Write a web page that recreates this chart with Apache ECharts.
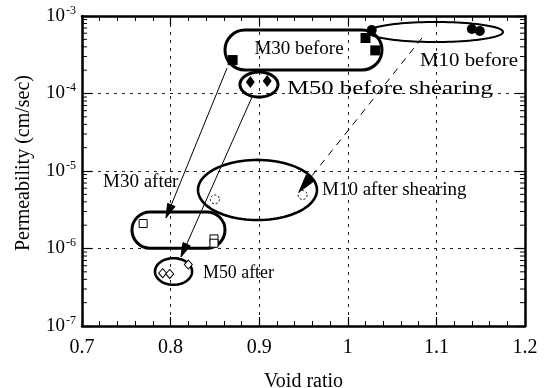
<!DOCTYPE html>
<html><head><meta charset="utf-8">
<script src="https://cdn.jsdelivr.net/npm/echarts@6/dist/echarts.min.js"></script>
<style>html,body{margin:0;padding:0;background:#fff}#c{width:545px;height:388px}</style>
</head><body><div id="c"></div>
<script>
// ---- data ----
const xTicks = [0.7, 0.8, 0.9, 1.0, 1.1, 1.2];
const yTickExponents = [-7, -6, -5, -4, -3];
const yMinorMantissas = [2, 3, 4, 5, 6, 7, 8, 9];
const yMinorDecades = [-7, -6, -5, -4];

const m10Before = [[1.140, 6.8e-4], [1.149, 6.4e-4], [1.027, 6.6e-4]];
const m30Before = [[0.870, 2.7e-4], [1.020, 5.2e-4], [1.031, 3.6e-4]];
const m50Before = [[0.890, 1.41e-4], [0.909, 1.45e-4]];
const m10After = [[0.949, 4.9e-6], [0.850, 4.3e-6]];
const m30After = [[0.769, 2.1e-6], [0.849, 1.33e-6], [0.849, 1.17e-6]];
const m50After = [[0.791, 4.8e-7], [0.799, 4.7e-7], [0.820, 6.2e-7]];

// group outlines in data units: [xMin, xMax, yTop, yBottom]
const outlineNames = ['M10 before', 'M30 before', 'M50 before', 'M10 after', 'M30 after', 'M50 after'];
const outlineShapes = ['ellipse', 'pill', 'ellipse', 'ellipse', 'pill', 'ellipse'];
const outlineBoxes = [
  [1.0228, 1.1752, 8.37e-4, 4.62e-4],
  [0.8614, 1.0386, 6.6e-4, 2.01e-4],
  [0.8783, 0.9212, 1.89e-4, 9.0e-5],
  [0.8309, 0.9652, 1.39e-5, 2.33e-6],
  [0.7564, 0.8614, 2.96e-6, 1.01e-6],
  [0.7824, 0.8242, 7.5e-7, 3.4e-7]
];
// arrows: [xFrom, yFrom, xTo, yTo]
const arrowSegments = [
  [0.8637, 2.13e-4, 0.7948, 2.48e-6],
  [0.8919, 9.0e-5, 0.8117, 7.76e-7],
  [1.0837, 5.2e-4, 0.9449, 5.36e-6]
];
const arrowDashed = [false, false, true];
// annotation texts and anchors (data units)
const noteTexts = ['M30 before', 'M10 before', 'M50 before shearing', 'M30 after', 'M10 after shearing', 'M50 after'];
const noteAnchors = [[0.9449, 3.75e-4], [1.1368, 2.62e-4], [0.9314, 1.14e-4], [0.7237, 7.2e-6], [0.9709, 5.7e-6], [0.8366, 4.83e-7]];
const noteAligns = ['center', 'center', 'left', 'left', 'left', 'left'];

// ---- styles ----
const INK = '#000';
const FONT = '"Liberation Serif", "DejaVu Serif", serif';
const outlineWidths = [2, 3, 3, 2.6, 3, 2.6];
const noteScaleX = [1.0, 1.1, 1.3, 1.0, 1.0, 0.94];
const arrowHeadLen = [14, 14, 18];
const arrowHeadHalfWidth = [4, 4, 5];

const yMinorLeft = [], yMinorRight = [];
yMinorDecades.forEach(e => yMinorMantissas.forEach(m => {
  yMinorLeft.push([xTicks[0], m * Math.pow(10, e)]);
  yMinorRight.push([xTicks[xTicks.length - 1], m * Math.pow(10, e)]);
}));

const chart = echarts.init(document.getElementById('c'));

const axisLineStyle = { color: INK, width: 2.5 };
const tickStyle = { color: INK, width: 1.2 };

function outlineItem(params, api) {
  const i = params.dataIndex;
  const a = api.coord([api.value(0), api.value(2)]);
  const b = api.coord([api.value(1), api.value(3)]);
  const x = Math.min(a[0], b[0]), y = Math.min(a[1], b[1]);
  const w = Math.abs(b[0] - a[0]), h = Math.abs(b[1] - a[1]);
  const st = { fill: 'none', stroke: INK, lineWidth: outlineWidths[i] };
  if (outlineShapes[i] === 'pill') {
    return { type: 'rect', shape: { x: x, y: y, width: w, height: h, r: h / 2 }, style: st };
  }
  const pts = [];
  for (let k = 0; k < 96; k++) {
    const t = k / 96 * Math.PI * 2;
    pts.push([x + w / 2 + w / 2 * Math.cos(t), y + h / 2 + h / 2 * Math.sin(t)]);
  }
  return { type: 'polygon', shape: { points: pts }, style: st };
}

function arrowItem(params, api) {
  const i = params.dataIndex;
  const p1 = api.coord([api.value(0), api.value(1)]);
  const p2 = api.coord([api.value(2), api.value(3)]);
  const dx = p2[0] - p1[0], dy = p2[1] - p1[1], L = Math.hypot(dx, dy);
  const ux = dx / L, uy = dy / L;
  const hl = arrowHeadLen[i], hw = arrowHeadHalfWidth[i];
  const bx = p2[0] - ux * hl, by = p2[1] - uy * hl;
  return {
    type: 'group',
    children: [
      { type: 'line', shape: { x1: p1[0], y1: p1[1], x2: bx, y2: by },
        style: { stroke: INK, lineWidth: 1, lineDash: arrowDashed[i] ? [7, 6] : null } },
      { type: 'polygon', shape: { points: [[p2[0], p2[1]], [bx - uy * hw, by + ux * hw], [bx + uy * hw, by - ux * hw]] },
        style: { fill: INK, stroke: INK, lineWidth: 1 } }
    ]
  };
}

function noteItem(params, api) {
  const i = params.dataIndex;
  const p = api.coord([api.value(0), api.value(1)]);
  return {
    type: 'text', x: p[0], y: p[1], scaleX: noteScaleX[i], scaleY: 1,
    style: { text: noteTexts[i], fill: INK, fontSize: 19, fontFamily: FONT, align: noteAligns[i], verticalAlign: 'middle' }
  };
}

const ymin = Math.pow(10, yTickExponents[0]);
const ymax = Math.pow(10, yTickExponents[yTickExponents.length - 1]);

chart.setOption({
  animation: false,
  backgroundColor: '#fff',
  grid: { left: 82, right: 20, top: 16, bottom: 62, containLabel: false, outerBoundsMode: 'none' },
  xAxis: [{
    type: 'value', min: xTicks[0], max: xTicks[xTicks.length - 1], interval: 0.1, position: 'bottom',
    axisLine: { show: true, onZero: false, lineStyle: axisLineStyle },
    axisTick: { show: true, inside: true, length: 9, lineStyle: tickStyle },
    minorTick: { show: true, splitNumber: 5, length: 5, lineStyle: { color: INK, width: 1 } },
    axisLabel: { color: INK, fontSize: 20, fontFamily: FONT, margin: 12,
      formatter: v => String(Math.round(v * 10) / 10) },
    splitLine: { show: true, lineStyle: { color: '#222', width: 1, type: [3, 5] } },
    name: 'Void ratio', nameLocation: 'middle', nameGap: 46,
    nameTextStyle: { color: INK, fontSize: 20, fontFamily: FONT }
  }, {
    type: 'value', min: xTicks[0], max: xTicks[xTicks.length - 1], interval: 0.1, position: 'top',
    axisLine: { show: true, onZero: false, lineStyle: axisLineStyle },
    axisTick: { show: true, inside: true, length: 9, lineStyle: tickStyle },
    minorTick: { show: true, splitNumber: 5, length: 5, lineStyle: { color: INK, width: 1 } },
    axisLabel: { show: false }, splitLine: { show: false }
  }],
  yAxis: [{
    type: 'log', logBase: 10, min: ymin, max: ymax, position: 'left',
    axisLine: { show: true, onZero: false, lineStyle: axisLineStyle },
    axisTick: { show: true, inside: true, length: 10, lineStyle: tickStyle },
    axisLabel: { color: INK, margin: 6,
      formatter: v => '{b|10}{s|' + Math.round(Math.log10(v)) + '}',
      rich: { b: { fontSize: 19, fontFamily: FONT, color: INK },
              s: { fontSize: 12, fontFamily: FONT, color: INK, padding: [0, 0, 11, 1] } } },
    splitLine: { show: true, lineStyle: { color: '#222', width: 1, type: [3, 5] } },
    name: 'Permeability (cm/sec)', nameLocation: 'middle', nameGap: 48,
    nameTextStyle: { color: INK, fontSize: 20, fontFamily: FONT, padding: [0, 0, 0, 16] }
  }, {
    type: 'log', logBase: 10, min: ymin, max: ymax, position: 'right',
    axisLine: { show: true, onZero: false, lineStyle: axisLineStyle },
    axisTick: { show: true, inside: true, length: 10, lineStyle: tickStyle },
    axisLabel: { show: false }, splitLine: { show: false }
  }],
  series: [
    { type: 'scatter', name: 'minorLeft', data: yMinorLeft, symbol: 'rect', symbolSize: [5, 1], symbolOffset: [2.5, 0],
      itemStyle: { color: INK, opacity: 1 }, clip: false, silent: true, z: 1 },
    { type: 'scatter', name: 'minorRight', data: yMinorRight, symbol: 'rect', symbolSize: [5, 1], symbolOffset: [-2.5, 0],
      itemStyle: { color: INK, opacity: 1 }, clip: false, silent: true, z: 1 },
    { type: 'custom', name: 'outlines', renderItem: outlineItem, data: outlineBoxes, encode: { x: [0, 1], y: [2, 3] }, silent: true, z: 2 },
    { type: 'custom', name: 'arrows', renderItem: arrowItem, data: arrowSegments, encode: { x: [0, 2], y: [1, 3] }, silent: true, z: 2 },
    { type: 'custom', name: 'notes', renderItem: noteItem, data: noteAnchors, encode: { x: 0, y: 1 }, silent: true, z: 4 },
    { type: 'scatter', name: 'M10 before', data: m10Before, symbol: 'circle', symbolSize: 10, itemStyle: { color: INK, opacity: 1 }, z: 3 },
    { type: 'scatter', name: 'M30 before', data: m30Before, symbol: 'rect', symbolSize: 10, itemStyle: { color: INK, opacity: 1 }, z: 3 },
    { type: 'scatter', name: 'M50 before', data: m50Before, symbol: 'diamond', symbolSize: [9, 12], itemStyle: { color: INK, opacity: 1 }, z: 3 },
    { type: 'scatter', name: 'M10 after', data: m10After, symbol: 'circle', symbolSize: 9,
      itemStyle: { color: 'rgba(255,255,255,0)', borderColor: INK, borderWidth: 1, borderType: [2, 2], opacity: 1 }, z: 3 },
    { type: 'scatter', name: 'M30 after', data: m30After, symbol: 'rect', symbolSize: 8,
      itemStyle: { color: '#fff', borderColor: INK, borderWidth: 1, opacity: 1 }, z: 3 },
    { type: 'scatter', name: 'M50 after', data: m50After, symbol: 'diamond', symbolSize: [8, 9],
      itemStyle: { color: '#fff', borderColor: INK, borderWidth: 1, opacity: 1 }, z: 3 }
  ]
});
</script></body></html>
